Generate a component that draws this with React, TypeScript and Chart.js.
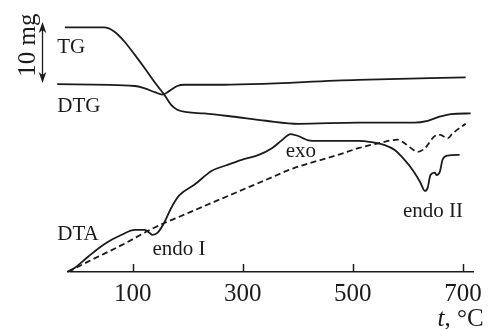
import React, { useEffect, useRef } from "react";
import { Chart, registerables } from "chart.js";

Chart.register(...registerables);

// Axis ranges
const X_MIN = -12;
const X_MAX = 719;
const Y_MIN = 0;
const Y_MAX = 44.6;
const TICK_VALUES = [100, 300, 500, 700];

// TG curve (temperature °C, mass-scale units mg)
const TG_T = [-23, 48, 67, 85, 104, 122, 140, 158, 170, 181, 199, 230, 280, 342, 401, 510, 612, 636, 659, 678, 714];
const TG_V = [40.1, 40.1, 39.4, 37.8, 35.6, 33.4, 31.1, 29.0, 27.4, 26.6, 26.2, 26.0, 25.5, 24.8, 24.3, 24.5, 24.5, 24.8, 25.5, 25.9, 26.0];

// DTG curve
const DTG_T = [-37, 104, 122, 140, 154, 167, 181, 194, 248, 510, 705];
const DTG_V = [30.8, 30.5, 30.1, 29.5, 29.1, 29.7, 30.5, 30.7, 30.7, 31.5, 31.9];

// DTA curve (solid)
const DTA_T = [-19, -5, 19, 49, 80, 104, 122, 131, 136, 145, 158, 170, 185, 212, 244, 270, 298, 329, 353, 371, 387, 401, 419, 437, 510, 533, 558, 576, 594, 609, 622, 631, 636, 641, 649, 652, 658, 663, 672, 694];
const DTA_V = [0.0, 0.7, 2.5, 4.6, 6.1, 6.9, 6.9, 6.4, 6.1, 6.4, 8.2, 10.5, 12.6, 14.3, 16.6, 17.5, 18.4, 19.2, 20.3, 21.6, 22.6, 22.3, 21.6, 21.5, 21.5, 21.3, 20.8, 20.0, 18.4, 16.7, 14.8, 13.3, 13.8, 15.9, 16.3, 15.9, 16.4, 18.4, 19.1, 19.2];

// DTA reference (dashed)
const REF_T = [-17, 19, 80, 140, 199, 248, 342, 392, 473, 510, 546, 582, 594, 609, 618, 631, 649, 659, 672, 681, 705];
const REF_V = [0.0, 1.7, 4.4, 7.3, 9.6, 11.5, 15.1, 17.0, 19.2, 20.3, 21.1, 21.7, 21.1, 20.1, 19.7, 20.3, 22.3, 22.5, 21.9, 22.7, 24.3];

// Curve labels
const LABEL_TEXT = ["TG", "DTG", "DTA", "endo I", "exo", "endo II"];
const LABEL_T = [-37, -37, -37, 136, 378, 591];
const LABEL_V = [35.9, 26.2, 5.2, 2.8, 18.9, 9.0];

// Scale bar
const BAR_T = -64;
const BAR_FROM = 31;
const BAR_TO = 41;
const BAR_LABEL = "10 mg";
const BAR_LABEL_T = -77;
const BAR_LABEL_V = 37.2;

// Axis title
const AXIS_TITLE_ITALIC = "t";
const AXIS_TITLE_REST = ", °C";
const AXIS_TITLE_T = 654;
const AXIS_TITLE_V = -8.85;

const INK = "#1b1b1b";
const SERIF = '"Liberation Serif", "Times New Roman", serif';

const toPts = (xs: number[], ys: number[]) => xs.map((x, i) => ({ x, y: ys[i] }));

const overlayPlugin = {
  id: "overlay",
  afterDraw(chart: any) {
    const ctx = chart.ctx as CanvasRenderingContext2D;
    const xs = chart.scales.x;
    const ys = chart.scales.y;
    const yb = chart.chartArea.bottom;
    ctx.save();
    // inward tick marks
    ctx.strokeStyle = INK;
    ctx.lineWidth = 1.5;
    xs.ticks.forEach((t: any) => {
      const px = Math.round(xs.getPixelForValue(t.value)) + 0.5;
      ctx.beginPath();
      ctx.moveTo(px, yb);
      ctx.lineTo(px, yb - 8);
      ctx.stroke();
    });
    // curve labels
    ctx.fillStyle = INK;
    ctx.font = `21px ${SERIF}`;
    ctx.textAlign = "left";
    ctx.textBaseline = "alphabetic";
    LABEL_TEXT.forEach((txt, i) => {
      ctx.fillText(txt, xs.getPixelForValue(LABEL_T[i]), ys.getPixelForValue(LABEL_V[i]));
    });
    // scale bar arrow
    const bx = Math.round(xs.getPixelForValue(BAR_T)) + 0.5;
    const y1 = ys.getPixelForValue(BAR_TO);
    const y2 = ys.getPixelForValue(BAR_FROM);
    ctx.lineWidth = 1.3;
    ctx.beginPath();
    ctx.moveTo(bx, y1 + 6);
    ctx.lineTo(bx, y2 - 6);
    ctx.stroke();
    ctx.beginPath();
    ctx.moveTo(bx, y1);
    ctx.lineTo(bx - 3.8, y1 + 11);
    ctx.lineTo(bx, y1 + 8);
    ctx.lineTo(bx + 3.8, y1 + 11);
    ctx.closePath();
    ctx.fill();
    ctx.beginPath();
    ctx.moveTo(bx, y2);
    ctx.lineTo(bx - 3.8, y2 - 11);
    ctx.lineTo(bx, y2 - 8);
    ctx.lineTo(bx + 3.8, y2 - 11);
    ctx.closePath();
    ctx.fill();
    // rotated scale label
    ctx.save();
    ctx.translate(xs.getPixelForValue(BAR_LABEL_T), ys.getPixelForValue(BAR_LABEL_V));
    ctx.rotate(-Math.PI / 2);
    ctx.font = `25px ${SERIF}`;
    ctx.textAlign = "center";
    ctx.fillText(BAR_LABEL, 0, 0);
    ctx.restore();
    // axis title
    const tx = xs.getPixelForValue(AXIS_TITLE_T);
    const ty = ys.getPixelForValue(AXIS_TITLE_V);
    ctx.font = `italic 25px ${SERIF}`;
    ctx.textAlign = "left";
    ctx.fillText(AXIS_TITLE_ITALIC, tx, ty);
    const w = ctx.measureText(AXIS_TITLE_ITALIC).width;
    ctx.font = `25px ${SERIF}`;
    ctx.fillText(AXIS_TITLE_REST, tx + w, ty);
    ctx.restore();
  },
};

export default function App() {
  const ref = useRef<HTMLCanvasElement | null>(null);
  useEffect(() => {
    document.body.style.margin = "0";
    const line = (data: any, dash: number[] = []) => ({
      data,
      borderColor: INK,
      borderWidth: 1.8,
      borderDash: dash,
      pointRadius: 0,
      fill: false,
      cubicInterpolationMode: "monotone" as const,
      clip: false as const,
    });
    const chart = new Chart(ref.current as HTMLCanvasElement, {
      type: "line",
      data: {
        datasets: [
          line(toPts(TG_T, TG_V)),
          line(toPts(DTG_T, DTG_V)),
          line(toPts(DTA_T, DTA_V)),
          line(toPts(REF_T, REF_V), [6, 3.5]),
        ],
      },
      options: {
        animation: false,
        responsive: false,
        events: [],
        layout: { padding: { left: 71, right: 13, top: 0, bottom: 0 } },
        plugins: { legend: { display: false }, tooltip: { enabled: false } },
        scales: {
          x: {
            type: "linear",
            min: X_MIN,
            max: X_MAX,
            afterBuildTicks: (scale: any) => {
              scale.ticks = TICK_VALUES.map((v) => ({ value: v }));
            },
            afterFit: (scale: any) => {
              scale.height = 57;
            },
            grid: { display: false, drawTicks: false },
            border: { display: true, color: INK, width: 1.6 },
            ticks: {
              color: INK,
              font: { family: SERIF, size: 25 },
              padding: 7,
              maxRotation: 0,
              autoSkip: false,
            },
          },
          y: {
            type: "linear",
            min: Y_MIN,
            max: Y_MAX,
            display: false,
          },
        },
      },
      plugins: [overlayPlugin],
    });
    return () => chart.destroy();
  }, []);
  return (
    <canvas
      ref={ref}
      width={489}
      height={329}
      style={{ display: "block", position: "absolute", left: 0, top: 0, width: 489, height: 329 }}
    />
  );
}
